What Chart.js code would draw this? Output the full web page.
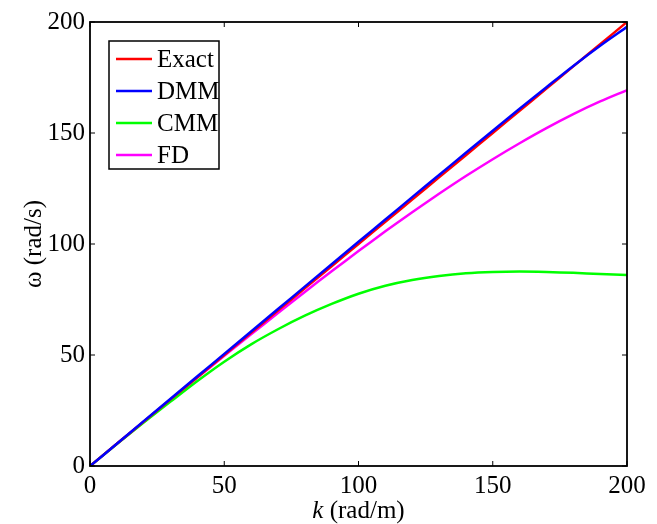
<!DOCTYPE html>
<html lang="en">
<head>
  <meta charset="UTF-8">
  <title>Dispersion curves</title>
  <script src="https://cdn.jsdelivr.net/npm/chart.js"></script>
  <style>
    body { margin: 0; background: #fff; }
  </style>
</head>
<body>
<canvas id="myChart" width="657" height="524"></canvas>

<script>
    // Data
    const kValues = [0, 10, 20, 30, 40, 50, 60, 70, 80, 90, 100, 110, 120, 130, 140, 150, 160, 170, 180, 190, 200];
    const exact = [0, 10, 20, 30, 40, 50, 60, 70, 80, 90, 100, 110, 120, 130, 140, 150, 160, 170, 180, 190, 200];
    const dmm = [0, 10, 20.2, 30.3, 40.4, 50.5, 60.6, 70.7, 80.8, 90.9, 101, 111, 121.1, 131.1, 141.1, 151, 160.9, 170.6, 180.2, 189.3, 197.8];
    const cmm = [0, 9.9, 19.6, 29, 38.3, 47, 54.8, 61.6, 67.7, 73, 77.6, 81.2, 83.8, 85.6, 86.8, 87.4, 87.6, 87.4, 87, 86.5, 86];
    const fd = [0, 10, 20, 29.9, 39.8, 49.6, 59.3, 68.9, 78.4, 87.7, 96.8, 105.7, 114.3, 122.6, 130.6, 138.2, 145.4, 152.2, 158.5, 164.2, 169.3];
    const tickValues = [0, 50, 100, 150, 200];

    const seriesNames = ["Exact", "DMM", "CMM", "FD"];
    const seriesColors = ["#ff0000", "#0000ff", "#00ff00", "#ff00ff"];
    const seriesData = [exact, dmm, cmm, fd];

    const FONT = "'Liberation Serif', 'Times New Roman', serif";
    const FS = 25;

    function toPoints(ys) {
        return kValues.map((k, i) => ({ x: k, y: ys[i] }));
    }

    // box, inward ticks, legend and axis titles in MATLAB style
    const matlabFrame = {
        id: 'matlabFrame',
        afterDraw(chart) {
            const ctx = chart.ctx;
            const area = chart.chartArea;
            const xs = chart.scales.x;
            const ys = chart.scales.y;
            ctx.save();
            ctx.strokeStyle = '#000';
            ctx.lineWidth = 1.8;
            ctx.strokeRect(area.left, area.top, area.right - area.left, area.bottom - area.top);

            ctx.lineWidth = 1;
            const len = 5;
            tickValues.forEach(v => {
                const px = xs.getPixelForValue(v);
                ctx.beginPath();
                ctx.moveTo(px, area.bottom); ctx.lineTo(px, area.bottom - len);
                ctx.moveTo(px, area.top); ctx.lineTo(px, area.top + len);
                const py = ys.getPixelForValue(v);
                ctx.moveTo(area.left, py); ctx.lineTo(area.left + len, py);
                ctx.moveTo(area.right, py); ctx.lineTo(area.right - len, py);
                ctx.stroke();
            });

            // legend
            const lx = 109, ly = 41, lw = 110, lh = 128;
            ctx.fillStyle = '#fff';
            ctx.fillRect(lx, ly, lw, lh);
            ctx.strokeStyle = '#000';
            ctx.lineWidth = 1.5;
            ctx.strokeRect(lx, ly, lw, lh);
            ctx.font = FS + 'px ' + FONT;
            ctx.textBaseline = 'middle';
            ctx.textAlign = 'left';
            seriesNames.forEach((name, i) => {
                const y = ly + 18 + i * 32;
                ctx.strokeStyle = seriesColors[i];
                ctx.lineWidth = 2.5;
                ctx.beginPath();
                ctx.moveTo(lx + 7, y); ctx.lineTo(lx + 43, y);
                ctx.stroke();
                ctx.fillStyle = '#000';
                ctx.fillText(name, lx + 48, y + 1);
            });

            // x title
            ctx.textBaseline = 'alphabetic';
            ctx.font = 'italic ' + FS + 'px ' + FONT;
            const kW = ctx.measureText('k').width;
            ctx.font = FS + 'px ' + FONT;
            const restW = ctx.measureText(' (rad/m)').width;
            const cx = (area.left + area.right) / 2;
            const sx = cx - (kW + restW) / 2;
            ctx.font = 'italic ' + FS + 'px ' + FONT;
            ctx.fillText('k', sx, 518);
            ctx.font = FS + 'px ' + FONT;
            ctx.fillText(' (rad/m)', sx + kW, 518);

            // y title
            ctx.translate(34, (area.top + area.bottom) / 2);
            ctx.rotate(-Math.PI / 2);
            ctx.textAlign = 'center';
            ctx.textBaseline = 'middle';
            ctx.fillText('\u03c9 (rad/s)', 0, 0);
            ctx.restore();
        }
    };

    const config = {
      type: 'line',
      data: {
        datasets: seriesNames.map((name, i) => ({
            label: name,
            data: toPoints(seriesData[i]),
            borderColor: seriesColors[i],
            borderWidth: 2.5,
            pointRadius: 0,
            fill: false,
            tension: 0.3,
            order: i === 1 ? 0 : i + 1
        }))
      },
      options: {
        responsive: false,
        animation: false,
        layout: { padding: { left: 0, top: 22, right: 30, bottom: 0 } },
        scales: {
          x: {
            type: 'linear',
            min: 0, max: 200,
            afterFit(scale) { scale.height = 58; },
            afterBuildTicks(scale) { scale.ticks = tickValues.map(v => ({ value: v })); },
            grid: { display: false },
            border: { display: false },
            ticks: { color: '#000', font: { family: FONT, size: FS }, padding: -3, maxRotation: 0 }
          },
          y: {
            min: 0, max: 200,
            afterFit(scale) { scale.width = 90; },
            afterBuildTicks(scale) { scale.ticks = tickValues.map(v => ({ value: v })); },
            grid: { display: false },
            border: { display: false },
            ticks: { color: '#000', font: { family: FONT, size: FS }, padding: -3 }
          }
        },
        plugins: {
          legend: { display: false },
          tooltip: { enabled: false }
        }
      },
      plugins: [matlabFrame]
    };

    const ctx = document.getElementById('myChart').getContext('2d');
    const myChart = new Chart(ctx, config);
</script>

</body>
</html>
